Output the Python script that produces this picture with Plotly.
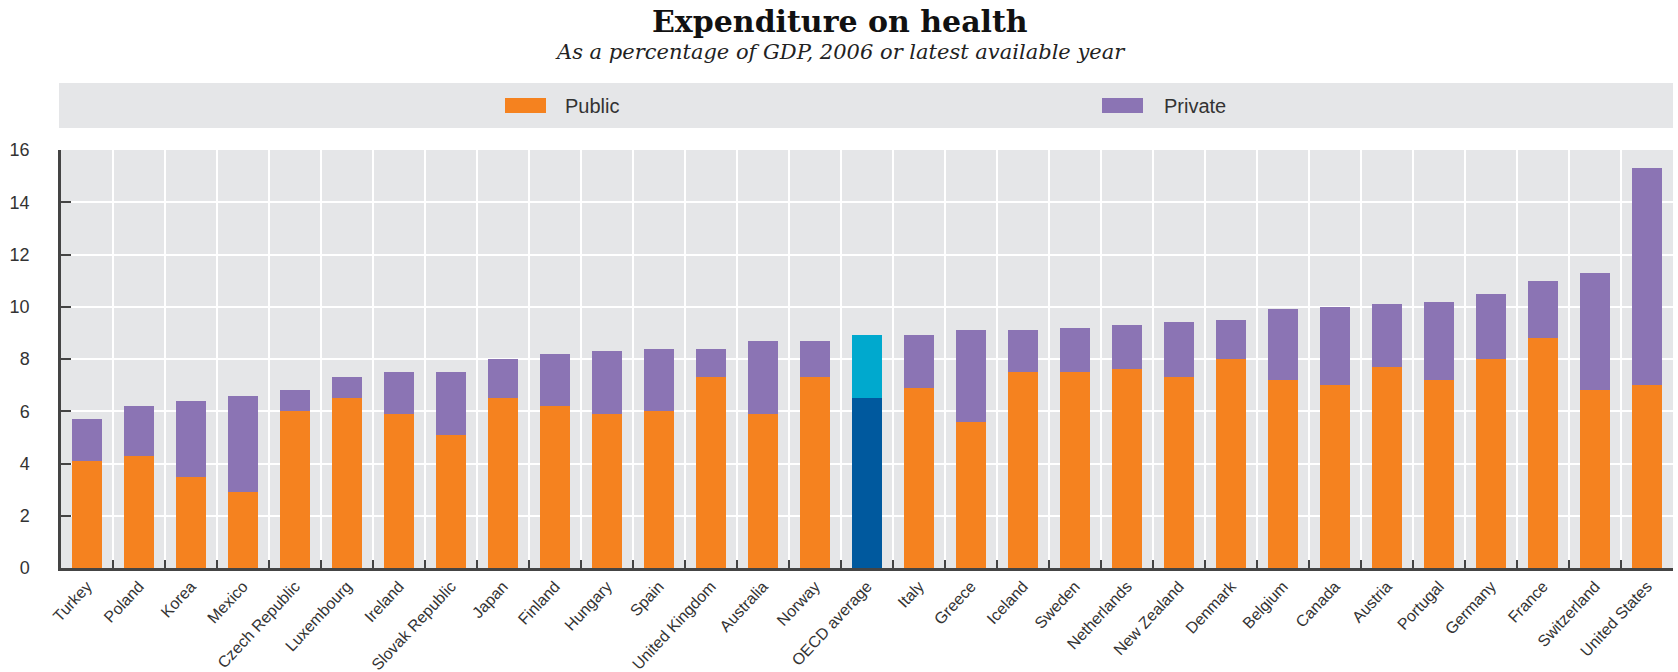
import plotly.graph_objects as go

countries = ["Turkey", "Poland", "Korea", "Mexico", "Czech Republic", "Luxembourg", "Ireland",
             "Slovak Republic", "Japan", "Finland", "Hungary", "Spain", "United Kingdom", "Australia",
             "Norway", "OECD average", "Italy", "Greece", "Iceland", "Sweden", "Netherlands",
             "New Zealand", "Denmark", "Belgium", "Canada", "Austria", "Portugal", "Germany",
             "France", "Switzerland", "United States"]
public = [4.1, 4.3, 3.5, 2.9, 6.0, 6.5, 5.9, 5.1, 6.5, 6.2, 5.9, 6.0, 7.3, 5.9, 7.3, 6.5, 6.9, 5.6,
          7.5, 7.5, 7.6, 7.3, 8.0, 7.2, 7.0, 7.7, 7.2, 8.0, 8.8, 6.8, 7.0]
private = [1.6, 1.9, 2.9, 3.7, 0.8, 0.8, 1.6, 2.4, 1.5, 2.0, 2.4, 2.4, 1.1, 2.8, 1.4, 2.4, 2.0, 3.5,
           1.6, 1.7, 1.7, 2.1, 1.5, 2.7, 3.0, 2.4, 3.0, 2.5, 2.2, 4.5, 8.3]
y_ticks = [0, 2, 4, 6, 8, 10, 12, 14, 16]

ORANGE = "#F5821F"
PURPLE = "#8B74B4"
DARK_BLUE = "#00599E"
CYAN = "#00A9CE"
BG = "#E5E6E8"
highlight = "OECD average"

pub_colors = [DARK_BLUE if c == highlight else ORANGE for c in countries]
priv_colors = [CYAN if c == highlight else PURPLE for c in countries]

W, H = 1678, 672
L, R, T, B = 61, 1673, 150, 568


def px_x(px):
    return (px - L) / (R - L)


def px_y(py):
    return (B - py) / (B - T)


fig = go.Figure()
fig.add_trace(go.Bar(x=countries, y=public, name="Public", marker=dict(color=pub_colors, line=dict(width=0)),
                     showlegend=False))
fig.add_trace(go.Bar(x=countries, y=private, name="Private", marker=dict(color=priv_colors, line=dict(width=0)),
                     showlegend=False))

SANS = "Liberation Sans, Arial, sans-serif"
tickfont = dict(family=SANS, size=18, color="#333333")

fig.update_layout(
    width=W, height=H,
    barmode="stack", bargap=0.42,
    paper_bgcolor="white", plot_bgcolor=BG,
    margin=dict(l=L, r=W - R, t=T, b=H - B),
    xaxis=dict(type="category", tickangle=-47, tickfont=dict(tickfont, size=16), automargin=False,
               showgrid=True, gridcolor="white", gridwidth=2, tickson="boundaries",
               ticks="inside", ticklen=8, tickwidth=2, tickcolor="#444444",
               showline=True, linecolor="#444444", linewidth=2.5),
    yaxis=dict(range=[0, 16], tickvals=y_ticks, tickfont=tickfont, automargin=False,
               showgrid=True, gridcolor="white", gridwidth=2, zeroline=False,
               ticks="inside", ticklen=10, tickwidth=2, tickcolor="#444444",
               showline=True, linecolor="#444444", linewidth=2.5, ticklabelstandoff=25),
    shapes=[
        dict(type="rect", xref="paper", yref="paper", x0=px_x(59), x1=px_x(1673), y0=px_y(128), y1=px_y(83),
             fillcolor=BG, line=dict(width=0), layer="below"),
        dict(type="rect", xref="paper", yref="paper", x0=px_x(505), x1=px_x(546), y0=px_y(113), y1=px_y(98),
             fillcolor=ORANGE, line=dict(width=0)),
        dict(type="rect", xref="paper", yref="paper", x0=px_x(1102), x1=px_x(1143), y0=px_y(113), y1=px_y(98),
             fillcolor=PURPLE, line=dict(width=0)),
    ],
    annotations=[
        dict(text="<b>Expenditure on health</b>", xref="paper", yref="paper", x=px_x(840), y=px_y(22),
             showarrow=False, xanchor="center", yanchor="middle",
             font=dict(family="DejaVu Serif, Liberation Serif, serif", size=30, color="#111111")),
        dict(text="<i>As a percentage of GDP, 2006 or latest available year</i>", xref="paper", yref="paper",
             x=px_x(840), y=px_y(52), showarrow=False, xanchor="center", yanchor="middle",
             font=dict(family="DejaVu Serif, Liberation Serif, serif", size=21, color="#222222")),
        dict(text="Public", xref="paper", yref="paper", x=px_x(563), y=px_y(106), showarrow=False,
             xanchor="left", yanchor="middle", font=dict(tickfont, size=20)),
        dict(text="Private", xref="paper", yref="paper", x=px_x(1162), y=px_y(106), showarrow=False,
             xanchor="left", yanchor="middle", font=dict(tickfont, size=20)),
    ],
)

fig.write_html("out.html", config={"displayModeBar": False},
               post_script="document.body.style.margin='0px';")
